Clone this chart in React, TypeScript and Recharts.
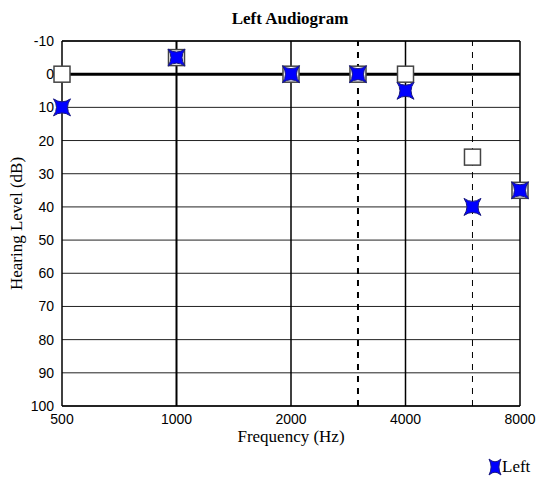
import {
  ComposedChart,
  Scatter,
  XAxis,
  YAxis,
  CartesianGrid,
  ReferenceLine,
  Legend,
  Label,
} from "recharts";

const FREQS = [500, 1000, 2000, 3000, 4000, 6000, 8000];
const LEFT_DB = [10, -5, 0, 0, 5, 40, 35];
const SQUARE_DB = [0, -5, 0, 0, 0, 25, 35];
const X_TICKS = [500, 1000, 2000, 4000, 8000];
const Y_TICKS = [-10, 0, 10, 20, 30, 40, 50, 60, 70, 80, 90, 100];
const SOLID_FREQS = [1000, 2000, 4000];
const DASHED_FREQS = [3000, 6000];

const leftData = FREQS.map((f, i) => ({ freq: f, db: LEFT_DB[i] }));
const squareData = FREQS.map((f, i) => ({ freq: f, db: SQUARE_DB[i] }));

const SERIF = "'Liberation Serif', 'Times New Roman', serif";
const SANS = "'Liberation Sans', Arial, sans-serif";

function starPath(cx: number, cy: number, rx: number, ry: number) {
  const kx = rx * 0.3;
  const ky = ry * 0.3;
  return (
    `M${cx - rx},${cy - ry} Q${cx},${cy - ky} ${cx + rx},${cy - ry} ` +
    `Q${cx + kx},${cy} ${cx + rx},${cy + ry} ` +
    `Q${cx},${cy + ky} ${cx - rx},${cy + ry} ` +
    `Q${cx - kx},${cy} ${cx - rx},${cy - ry} Z`
  );
}

const Star = (props: any) => {
  const { cx, cy } = props;
  if (cx == null || cy == null) return null;
  return (
    <path
      d={starPath(cx, cy, 8.5, 8.5)}
      fill="#0000ff"
      stroke="#1a1a80"
      strokeWidth={1}
    />
  );
};

const Square = (props: any) => {
  const { cx, cy } = props;
  if (cx == null || cy == null) return null;
  return (
    <rect
      x={cx - 8}
      y={cy - 8}
      width={16}
      height={16}
      fill="#fff"
      stroke="#444"
      strokeWidth={1.5}
    />
  );
};

export default function App() {
  return (
    <div
      style={{
        position: "absolute",
        left: 0,
        top: 0,
        width: 540,
        height: 480,
        background: "#fff",
      }}
    >
      <div
        style={{
          position: "absolute",
          left: 0,
          top: 9,
          width: 580,
          textAlign: "center",
          fontFamily: SERIF,
          fontWeight: "bold",
          fontSize: 17,
          color: "#000",
        }}
      >
        Left Audiogram
      </div>
      <ComposedChart
        width={540}
        height={480}
        margin={{ top: 41, right: 20, bottom: 0, left: 0 }}
      >
        <CartesianGrid vertical={false} stroke="#222" strokeWidth={1} />
        <XAxis
          dataKey="freq"
          type="number"
          scale="log"
          domain={[500, 8000]}
          ticks={X_TICKS}
          axisLine={{ stroke: "#000", strokeWidth: 1.5 }}
          tickLine={false}
          tick={{ fontFamily: SANS, fontSize: 14, fill: "#000" }}
          height={74}
        >
          <Label
            value="Frequency (Hz)"
            position="insideTop"
            offset={24}
            style={{ fontFamily: SERIF, fontSize: 17, fill: "#000" }}
          />
        </XAxis>
        <YAxis
          dataKey="db"
          type="number"
          reversed
          domain={[-10, 100]}
          ticks={Y_TICKS}
          axisLine={{ stroke: "#000", strokeWidth: 1.5 }}
          tickLine={false}
          tick={{ fontFamily: SANS, fontSize: 14, fill: "#000" }}
          width={62}
        >
          <Label
            value="Hearing Level (dB)"
            angle={-90}
            position="insideLeft"
            offset={16}
            style={{
              fontFamily: SERIF,
              fontSize: 17,
              fill: "#000",
              textAnchor: "middle",
            }}
          />
        </YAxis>
        {SOLID_FREQS.map((f) => (
          <ReferenceLine
            key={f}
            x={f}
            stroke="#000"
            strokeWidth={f === 1000 ? 2 : 1.5}
          />
        ))}
        {DASHED_FREQS.map((f) => (
          <ReferenceLine
            key={f}
            x={f}
            stroke="#000"
            strokeWidth={f === 3000 ? 2 : 1}
            strokeDasharray="6 6"
          />
        ))}
        <ReferenceLine y={-10} stroke="#000" strokeWidth={1.5} />
        <ReferenceLine x={8000} stroke="#000" strokeWidth={1.5} />
        <ReferenceLine y={0} stroke="#000" strokeWidth={3} />
        <Scatter
          name="Square"
          data={squareData}
          shape={Square}
          legendType="none"
          isAnimationActive={false}
        />
        <Scatter
          name="Left"
          data={leftData}
          shape={Star}
          isAnimationActive={false}
        />
        <Legend
          layout="vertical"
          align="center"
          verticalAlign="middle"
          wrapperStyle={{ position: "absolute", left: 488, top: 457, width: 60 }}
          content={() => (
            <div
              style={{
                display: "flex",
                alignItems: "center",
                fontFamily: SERIF,
                fontSize: 17,
                color: "#000",
              }}
            >
              <svg width={14} height={18}>
                <path
                  d={starPath(7, 9, 6, 8)}
                  fill="#0000ff"
                  stroke="#1a1a80"
                  strokeWidth={1}
                />
              </svg>
              <span>Left</span>
            </div>
          )}
        />
      </ComposedChart>
    </div>
  );
}
